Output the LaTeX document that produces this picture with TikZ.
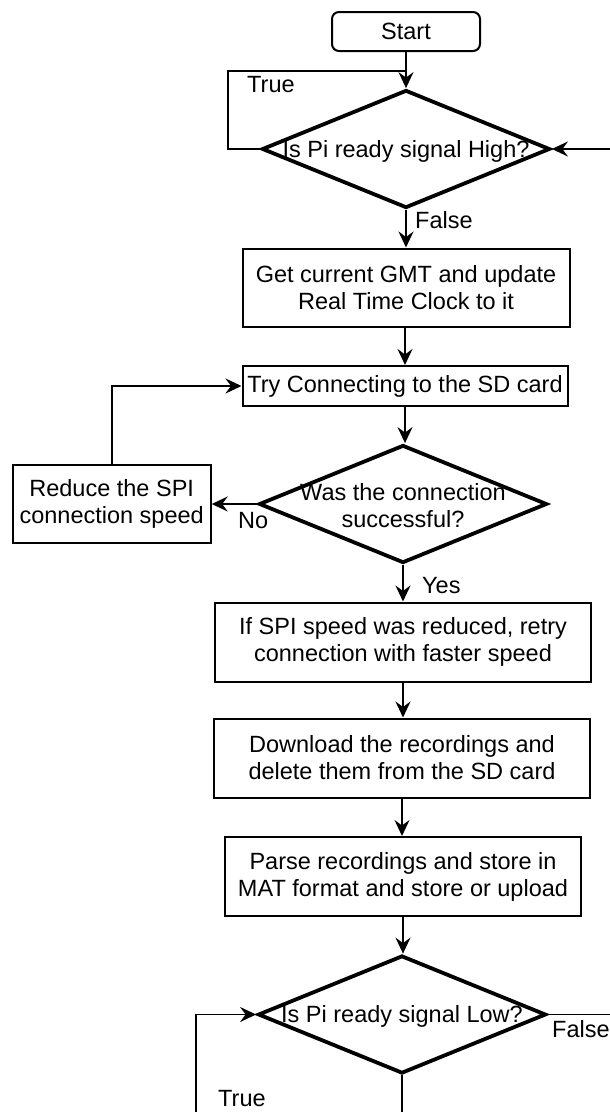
\documentclass[tikz,border=0pt]{standalone}
\usepackage{fontspec}
\setmainfont{Liberation Sans}
\usetikzlibrary{shapes.geometric,arrows.meta}

\begin{document}
\begin{tikzpicture}[x=1pt,y=-1pt,
  every node/.style={font=\fontsize{23.5}{27}\selectfont},
  proc/.style={draw,line width=2pt,inner sep=0pt,align=center},
  term/.style={proc,rounded corners=7pt},
  decis/.style={draw,diamond,line width=3.8pt,inner sep=0pt,minimum width=288pt,minimum height=118pt},
  dtext/.style={inner sep=0pt,align=center},
  lbl/.style={inner sep=0pt,anchor=base west},
  conn/.style={line width=1.8pt},
  flow/.style={conn,-{Stealth[length=16pt,width=15pt,inset=5.5pt]}}
]
\useasboundingbox (0,0) rectangle (610,1112);

% steps
\node[term,minimum width=148pt,minimum height=39pt] (start) at (406,31.5) {Start};
\node[decis] (d1) at (406,149) {};
\node[dtext] (d1t) at (406,151) {Is Pi ready signal High?};
\node[proc,minimum width=327pt,minimum height=78pt] (gmt) at (406,287.5)
  {Get current GMT and update\\Real Time Clock to it};
\node[proc,minimum width=325pt,minimum height=40pt] (try) at (405,386)
  {Try Connecting to the SD card};
\node[decis] (d2) at (403,504) {};
\node[dtext] (d2t) at (403,506) {Was the connection\\successful?};
\node[proc,minimum width=198pt,minimum height=78pt] (reduce) at (111.7,504)
  {Reduce the SPI\\connection speed};
\node[proc,minimum width=376pt,minimum height=79pt] (retry) at (403,642)
  {If SPI speed was reduced, retry\\connection with faster speed};
\node[proc,minimum width=376pt,minimum height=79pt] (down) at (402,758)
  {Download the recordings and\\delete them from the SD card};
\node[proc,minimum width=356pt,minimum height=79pt] (parse) at (403,876.5)
  {Parse recordings and store in\\MAT format and store or upload};
\node[decis] (d3) at (402,1014.5) {};
\node[dtext] (d3t) at (402,1016) {Is Pi ready signal Low?};

% branch labels
\node[lbl] (lt1) at (247,92) {True};
\node[lbl] (lf1) at (415,228) {False};
\node[lbl] (lno) at (238,528) {No};
\node[lbl] (lyes) at (422,593) {Yes};
\node[lbl] (lf3) at (552,1037) {False};
\node[lbl] (lt3) at (218,1106) {True};

% loose ends of the loops
\coordinate (loop1) at (228,71);
\coordinate (in1) at (610,149);
\coordinate (loop3) at (196,1112);
\coordinate (out3s) at (402,1112);
\coordinate (out3e) at (610,1014.5);

% connectors
\draw[flow] (start.south) -- (d1.north);
\draw[conn] (d1.west) -| (loop1) -- (start.south |- loop1);
\draw[flow] (in1) -- (d1.east);
\draw[flow] (d1.south) -- (gmt.north);
\draw[flow] (gmt.south -| try.north) -- (try.north);
\draw[flow] (try.south) -- (try.south |- d2.north);
\draw[flow] (d2.west) -- (reduce.east);
\draw[flow] (reduce.north) |- (try.west);
\draw[flow] (d2.south) -- (retry.north);
\draw[flow] (retry.south) -- (retry.south |- down.north);
\draw[flow] (down.south) -- (down.south |- parse.north);
\draw[flow] (parse.south) -- (parse.south |- d3.north);
\draw[flow] (loop3) |- (d3.west);
\draw[conn] (d3.south) -- (out3s);
\draw[conn] (d3.east) -- (out3e);
\end{tikzpicture}
\end{document}
